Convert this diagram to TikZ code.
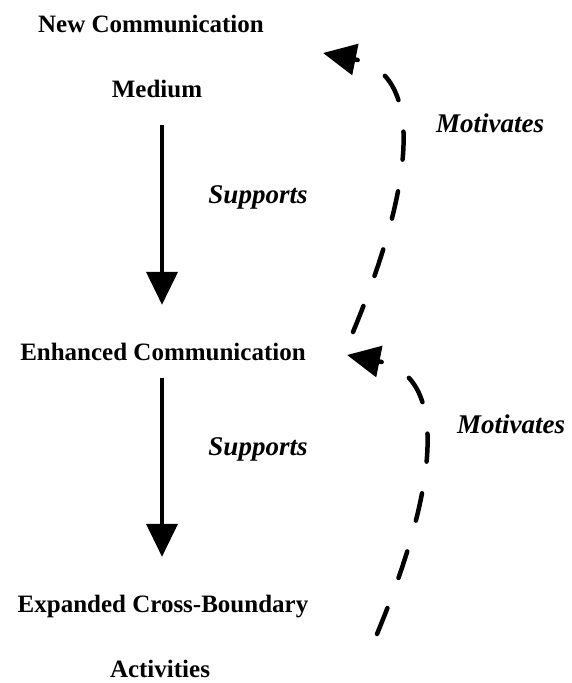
\documentclass[tikz,border=0pt]{standalone}
\usepackage{fontspec}
\setmainfont{Liberation Serif}
\usetikzlibrary{arrows.meta,positioning}
\tikzset{
	>={Triangle[length=33pt,width=31pt]}
}

\begin{document}
\begin{tikzpicture}[
x = 1pt, y = -1pt,
every node/.style = {
	font = \bfseries\fontsize{25}{30}\selectfont,
	inner sep = 0pt,
	text height = 18pt,
	text depth = 6pt
},
stage/.style = {
	anchor = base
},
edgelabel/.style = {
	anchor = base,
	font = \bfseries\itshape\fontsize{27}{32}\selectfont
},
supports/.style = {
	->,
	line width = 4pt
},
motivates/.style = {
	->,
	line width = 4.5pt,
	line cap = round,
	dash pattern = on 28pt off 32pt
}
]
\useasboundingbox (0,0) rectangle (571,683);

\node (new) [stage] at (151,32) {New Communication};
\node (medium) [stage] at (157,97) {Medium};
\node (enhanced) [stage] at (163,360) {Enhanced Communication};
\node (expanded) [stage] at (163,612) {Expanded Cross-Boundary};
\node (activities) [stage] at (160,677) {Activities};

\node (supports_1) [edgelabel] at (258,203) {Supports};
\node (supports_2) [edgelabel] at (258,455) {Supports};
\node (motivates_1) [edgelabel] at (490,132) {Motivates};
\node (motivates_2) [edgelabel] at (511,433) {Motivates};

\draw [supports] ([xshift=5pt,yshift=-22pt]medium.south) -- ([xshift=-1pt,yshift=37pt]enhanced.north);
\draw [supports] ([xshift=-1pt,yshift=-12pt]enhanced.south) -- ([xshift=-1pt,yshift=37pt]expanded.north);

\coordinate (loop_1_start) at (353,332);
\coordinate (loop_1_end) at (323,53);
\coordinate (loop_2_start) at (377,634);
\coordinate (loop_2_end) at (347,355);
\draw [motivates] (loop_1_start) .. controls (412,190) and (428,74) .. (loop_1_end);
\draw [motivates] (loop_2_start) .. controls (436,492) and (452,376) .. (loop_2_end);

\end{tikzpicture}
\end{document}
